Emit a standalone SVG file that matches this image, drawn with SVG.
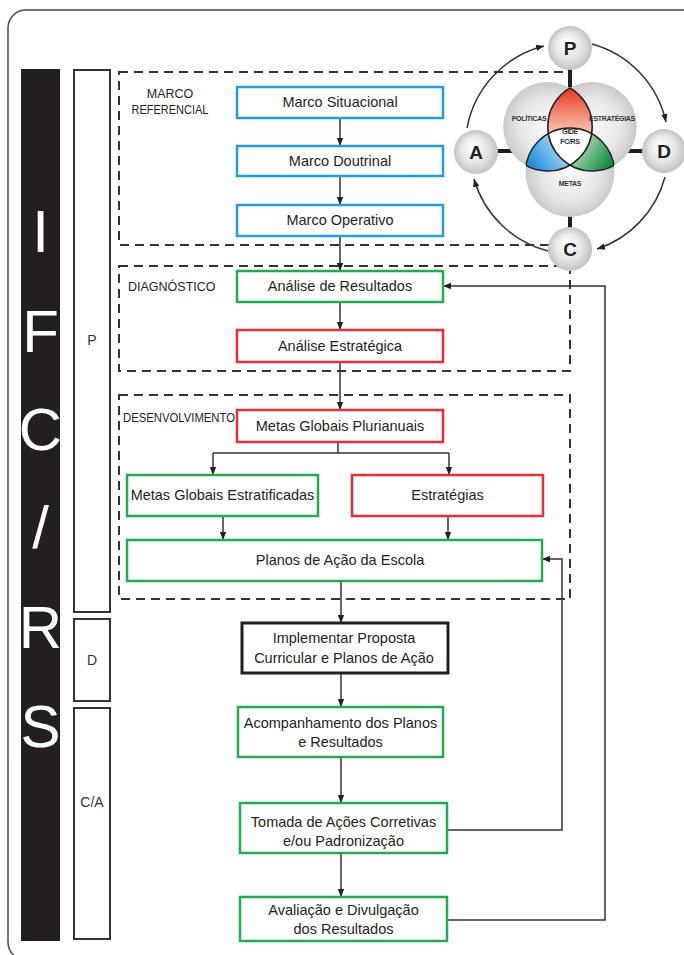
<svg xmlns="http://www.w3.org/2000/svg" width="684" height="955" viewBox="0 0 684 955">
<style>
text{font-family:"Liberation Sans",Arial,sans-serif;fill:#231f20}
.bx{fill:#fff;stroke-width:2.5}
.blue{stroke:#239ddf}
.green{stroke:#1fae4f}
.red{stroke:#ec2d37}
.blk{stroke:#231f20;stroke-width:3}
.lbl{font-size:14.5px;text-anchor:middle}
.sec{font-size:12.5px}
.dash{fill:none;stroke:#333;stroke-width:2;stroke-dasharray:9 6}
.con{fill:none;stroke:#333;stroke-width:1.5}
.big{font-size:60px;fill:#fff;text-anchor:middle}
.col{fill:#fff;stroke:#333;stroke-width:2}
.colt{font-size:14px;text-anchor:middle;fill:#333}
.pd{font-size:19px;font-weight:bold;text-anchor:middle;fill:#231f20}
.vt{font-size:7px;font-weight:bold;text-anchor:middle;fill:#333;letter-spacing:-0.3px}
.stub{stroke:#231f20;stroke-width:4}
.ring{fill:none;stroke:#333;stroke-width:1.5}
</style>
<defs>
<marker id="ah" viewBox="0 0 10 10" refX="10" refY="5" markerWidth="8" markerHeight="8" orient="auto" markerUnits="userSpaceOnUse">
<path d="M0,1 L10,5 L0,9 z" fill="#231f20"/>
</marker>
<radialGradient id="gs" cx="50%" cy="50%" r="50%" fx="40%" fy="35%">
<stop offset="0" stop-color="#ffffff"/><stop offset="0.6" stop-color="#e6e6e6"/><stop offset="1" stop-color="#c2c2c2"/>
</radialGradient>
<radialGradient id="gv" cx="50%" cy="50%" r="50%">
<stop offset="0" stop-color="#fafafa"/><stop offset="0.65" stop-color="#e6e6e6"/><stop offset="1" stop-color="#cacaca"/>
</radialGradient>
<linearGradient id="gr" gradientUnits="userSpaceOnUse" x1="570" y1="88" x2="570" y2="132">
<stop offset="0" stop-color="#e5391d"/><stop offset="1" stop-color="#f9c4ae"/>
</linearGradient>
<linearGradient id="gb" gradientUnits="userSpaceOnUse" x1="530" y1="165" x2="570" y2="138">
<stop offset="0" stop-color="#1a8ddc"/><stop offset="1" stop-color="#d6eefb"/>
</linearGradient>
<linearGradient id="gg" gradientUnits="userSpaceOnUse" x1="610" y1="165" x2="570" y2="138">
<stop offset="0" stop-color="#0d8a3c"/><stop offset="1" stop-color="#ddf0de"/>
</linearGradient>
<clipPath id="cTL"><circle cx="547.7" cy="126.5" r="44.5"/></clipPath>
<clipPath id="cTR"><circle cx="592.3" cy="126.5" r="44.5"/></clipPath>
<clipPath id="cTRB"><circle cx="592.3" cy="126.5" r="44.5"/><circle cx="570" cy="172.5" r="44.5"/></clipPath>
<clipPath id="cTLB"><circle cx="547.7" cy="126.5" r="44.5"/><circle cx="570" cy="172.5" r="44.5"/></clipPath>
<clipPath id="cTLTR"><circle cx="547.7" cy="126.5" r="44.5"/><circle cx="592.3" cy="126.5" r="44.5"/></clipPath>
</defs>
<rect width="684" height="955" fill="#fff"/>
<path d="M690,10 L26,10 A18,18 0 0 0 8,28 L8,942 A18,18 0 0 0 26,960 L690,960" fill="none" stroke="#4a4a4a" stroke-width="1.5"/>

<g id="side-bar">
<rect x="21" y="69" width="39" height="872" fill="#231f20"/>
<text class="big" x="40.5" y="252">I</text>
<text class="big" x="40.5" y="352">F</text>
<text class="big" x="40.5" y="450">C</text>
<text class="big" x="40.5" y="548">/</text>
<text class="big" x="40.5" y="648">R</text>
<text class="big" x="40.5" y="747">S</text>
</g>
<g id="col-p"><rect class="col" x="74" y="70" width="36" height="542"/><text class="colt" x="92" y="345">P</text></g>
<g id="col-d"><rect class="col" x="74" y="619" width="36" height="82"/><text class="colt" x="92" y="665">D</text></g>
<g id="col-ca"><rect class="col" x="74" y="708" width="36" height="231"/><text class="colt" x="92" y="807">C/A</text></g>

<g id="sections">
<rect class="dash" x="119" y="72" width="451" height="173"/>
<text class="sec" x="170" y="98" text-anchor="middle">MARCO</text>
<text class="sec" x="170" y="114" text-anchor="middle" textLength="77" lengthAdjust="spacingAndGlyphs">REFERENCIAL</text>
<rect class="dash" x="119" y="266" width="451" height="105"/>
<text class="sec" x="128" y="291">DIAGNÓSTICO</text>
<rect class="dash" x="119" y="395" width="451" height="204"/>
<text class="sec" x="123" y="422" textLength="112" lengthAdjust="spacingAndGlyphs">DESENVOLVIMENTO</text>
</g>

<g id="connectors">
<path class="con" d="M340,118 V146" marker-end="url(#ah)"/>
<path class="con" d="M340,176 V205" marker-end="url(#ah)"/>
<path class="con" d="M340,236 V271" marker-end="url(#ah)"/>
<path class="con" d="M340,302 V330" marker-end="url(#ah)"/>
<path class="con" d="M340,362 V410" marker-end="url(#ah)"/>
<path class="con" d="M338,442 V453"/>
<path class="con" d="M213,453 H449"/>
<path class="con" d="M213,453 V475" marker-end="url(#ah)"/>
<path class="con" d="M449,453 V475" marker-end="url(#ah)"/>
<path class="con" d="M223,516 V540" marker-end="url(#ah)"/>
<path class="con" d="M448,516 V540" marker-end="url(#ah)"/>
<path class="con" d="M341,581 V623" marker-end="url(#ah)"/>
<path class="con" d="M341,673 V707" marker-end="url(#ah)"/>
<path class="con" d="M341,757 V803" marker-end="url(#ah)"/>
<path class="con" d="M341,853 V897" marker-end="url(#ah)"/>
<path class="con" d="M447,830 H562 V559 H542" marker-end="url(#ah)"/>
<path class="con" d="M447,920 H605 V286 H443" marker-end="url(#ah)"/>
</g>

<g id="n-situacional"><rect class="bx blue" x="237" y="87" width="206" height="31"/><text class="lbl" x="340" y="107">Marco Situacional</text></g>
<g id="n-doutrinal"><rect class="bx blue" x="237" y="146" width="206" height="30"/><text class="lbl" x="340" y="166">Marco Doutrinal</text></g>
<g id="n-operativo"><rect class="bx blue" x="237" y="205" width="206" height="31"/><text class="lbl" x="340" y="225">Marco Operativo</text></g>
<g id="n-analise-resultados"><rect class="bx green" x="237" y="271" width="206" height="31"/><text class="lbl" x="340" y="291">Análise de Resultados</text></g>
<g id="n-analise-estrategica"><rect class="bx red" x="237" y="330" width="206" height="32"/><text class="lbl" x="340" y="351">Análise Estratégica</text></g>
<g id="n-metas-plurianuais"><rect class="bx red" x="237" y="410" width="206" height="32"/><text class="lbl" x="340" y="431">Metas Globais Plurianuais</text></g>
<g id="n-metas-estratificadas"><rect class="bx green" x="127" y="475" width="191" height="41"/><text class="lbl" x="222.5" y="500">Metas Globais Estratificadas</text></g>
<g id="n-estrategias"><rect class="bx red" x="352" y="475" width="191" height="41"/><text class="lbl" x="447.5" y="500">Estratégias</text></g>
<g id="n-planos"><rect class="bx green" x="127" y="540" width="415" height="41"/><text class="lbl" x="340" y="565">Planos de Ação da Escola</text></g>
<g id="n-implementar"><rect class="bx blk" x="242" y="623" width="206" height="50"/><text class="lbl" x="344" y="643">Implementar Proposta</text><text class="lbl" x="344" y="663">Curricular e Planos de Ação</text></g>
<g id="n-acompanhamento"><rect class="bx green" x="238" y="707" width="205" height="50"/><text class="lbl" x="340.5" y="728">Acompanhamento dos Planos</text><text class="lbl" x="340.5" y="747">e Resultados</text></g>
<g id="n-tomada"><rect class="bx green" x="240" y="803" width="207" height="50"/><text class="lbl" x="343.5" y="827">Tomada de Ações Corretivas</text><text class="lbl" x="343.5" y="846">e/ou Padronização</text></g>
<g id="n-avaliacao"><rect class="bx green" x="240" y="897" width="207" height="44"/><text class="lbl" x="343.5" y="915">Avaliação e Divulgação</text><text class="lbl" x="343.5" y="934">dos Resultados</text></g>

<g id="pdca">
<path class="ring" d="M592,44 A104,104 0 0 1 666,122" marker-end="url(#ah)"/>
<path class="ring" d="M665,177 A104,104 0 0 1 597,249" marker-end="url(#ah)"/>
<path class="ring" d="M548,251 A104,104 0 0 1 474,179" marker-end="url(#ah)"/>
<path class="ring" d="M467,128 A104,104 0 0 1 544,46" marker-end="url(#ah)"/>
<line class="stub" x1="570" y1="68" x2="570" y2="92"/>
<line class="stub" x1="496" y1="151" x2="515" y2="151"/>
<line class="stub" x1="625" y1="151" x2="645" y2="151"/>
<line class="stub" x1="570" y1="210" x2="570" y2="230"/>
<g id="venn">
<circle cx="547.7" cy="126.5" r="44.5" fill="url(#gv)"/>
<circle cx="592.3" cy="126.5" r="44.5" fill="url(#gv)"/>
<circle cx="570" cy="172.5" r="44.5" fill="url(#gv)"/>
<circle cx="592.3" cy="126.5" r="44.5" fill="url(#gr)" clip-path="url(#cTL)"/>
<circle cx="570" cy="172.5" r="44.5" fill="url(#gb)" clip-path="url(#cTL)"/>
<circle cx="570" cy="172.5" r="44.5" fill="url(#gg)" clip-path="url(#cTR)"/>
<g clip-path="url(#cTL)"><circle cx="570" cy="172.5" r="44.5" fill="#fff" clip-path="url(#cTR)"/></g>
<circle cx="547.7" cy="126.5" r="44.5" fill="none" stroke="#231f20" stroke-width="1.5" clip-path="url(#cTRB)"/>
<circle cx="592.3" cy="126.5" r="44.5" fill="none" stroke="#231f20" stroke-width="1.5" clip-path="url(#cTLB)"/>
<circle cx="570" cy="172.5" r="44.5" fill="none" stroke="#231f20" stroke-width="1.5" clip-path="url(#cTLTR)"/>
<text class="vt" x="529" y="121">POLÍTICAS</text>
<text class="vt" x="612" y="121">ESTRATÉGIAS</text>
<text class="vt" x="570" y="134">GIDE</text>
<text class="vt" x="570" y="144">FC/RS</text>
<text class="vt" x="570" y="186">METAS</text>
</g>
<g id="c-p"><circle cx="570" cy="48" r="22" fill="url(#gs)"/><text class="pd" x="570" y="55">P</text></g>
<g id="c-d"><circle cx="664" cy="151" r="22" fill="url(#gs)"/><text class="pd" x="664" y="158">D</text></g>
<g id="c-c"><circle cx="570" cy="249" r="22" fill="url(#gs)"/><text class="pd" x="570" y="256">C</text></g>
<g id="c-a"><circle cx="476" cy="152" r="22" fill="url(#gs)"/><text class="pd" x="476" y="159">A</text></g>
</g>
</svg>
